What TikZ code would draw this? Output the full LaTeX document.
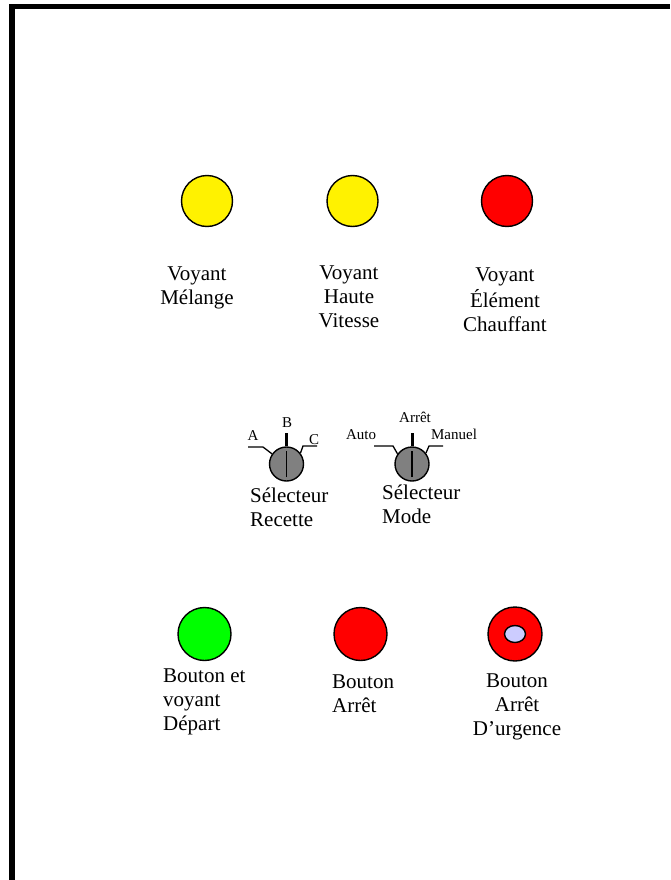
\documentclass[tikz,border=0pt]{standalone}
\usepackage{fontspec}
\setmainfont{Liberation Serif}
\begin{document}
\begin{tikzpicture}[x=1pt,y=-1pt,
  lamp/.style={circle,draw=black,line width=1.4pt,inner sep=0pt,minimum size=#1},
  knob/.style={circle,draw=black,line width=1.4pt,fill=knobgray,inner sep=0pt,minimum size=34pt},
  lbl/.style={inner sep=0pt,font=\fontsize{21}{24}\selectfont},
  small/.style={inner sep=0pt,anchor=base,font=\fontsize{15}{17}\selectfont},
  lead/.style={line width=1.3pt}]
\definecolor{knobgray}{HTML}{808080}
\definecolor{lav}{HTML}{CCCCFF}
\useasboundingbox (0,0) rectangle (670,880);
\fill[white] (0,0) rectangle (670,880);
% frame
\draw[line width=5.5pt] (12,880) -- (12,6.5) -- (670,6.5);
% top row lamps
\node[lamp=51pt,fill=yellow] (l1) at (207,201) {};
\node[lamp=51pt,fill=yellow] (l2) at (352.5,201) {};
\node[lamp=51pt,fill=red] (l3) at (507,201) {};
\node[lbl,anchor=north,align=center] (t1) at (197,263) {\strut Voyant\\Mélange};
\node[lbl,anchor=north,align=center] (t2) at (349,262) {\strut Voyant\\Haute\\Vitesse};
\node[lbl,anchor=north,align=center] (t3) at (505,264) {\strut Voyant\\Élément\\Chauffant};
% selector recette
\node[knob] (k1) at (286.5,464) {};
\draw[line width=1.4pt] ([yshift=-13pt]k1.center) -- ([yshift=13pt]k1.center);
\draw[line width=3pt] (k1.north) -- ++(0,-13);
\coordinate (k1l) at (248,447);
\coordinate (k1r) at (317,446);
\draw[lead] (k1l) -- ++(15,0) -- (k1.145);
\draw[lead] (k1.38) -- (303,446) -- (k1r);
\node[small] (sa) at (253,440) {A};
\node[small] (sb) at (287,427) {B};
\node[small] (sc) at (314,444) {C};
\node[lbl,anchor=north west,align=left] (t4) at (250,485) {\strut Sélecteur\\Recette};
% selector mode
\node[knob] (k2) at (412,464) {};
\draw[line width=1.4pt] ([yshift=-13pt]k2.center) -- ([yshift=13pt]k2.center);
\draw[line width=3pt] (k2.north) -- ++(0,-13);
\coordinate (k2l) at (374,446);
\coordinate (k2r) at (443,446);
\draw[lead] (k2l) -- ++(19,0) -- (k2.145);
\draw[lead] (k2.38) -- (429,446) -- (k2r);
\node[small] (sd) at (361,439) {Auto};
\node[small] (se) at (415,422) {Arrêt};
\node[small] (sf) at (454,439) {Manuel};
\node[lbl,anchor=north west,align=left] (t5) at (382,482) {\strut Sélecteur\\Mode};
% bottom row
\node[lamp=53pt,fill=green] (b1) at (204.5,634) {};
\node[lamp=53pt,fill=red] (b2) at (360.5,634) {};
\node[lamp=54pt,fill=red] (b3) at (515,634) {};
\draw[line width=1.4pt,fill=lav] (b3.center) ellipse [x radius=10.5, y radius=8.5];
\node[lbl,anchor=north west,align=left] (t6) at (163,665) {\strut Bouton et\\voyant\\Départ};
\node[lbl,anchor=north west,align=left] (t7) at (332,671) {\strut Bouton\\Arrêt};
\node[lbl,anchor=north,align=center] (t8) at (517,670) {\strut Bouton\\Arrêt\\D’urgence};
\end{tikzpicture}
\end{document}
